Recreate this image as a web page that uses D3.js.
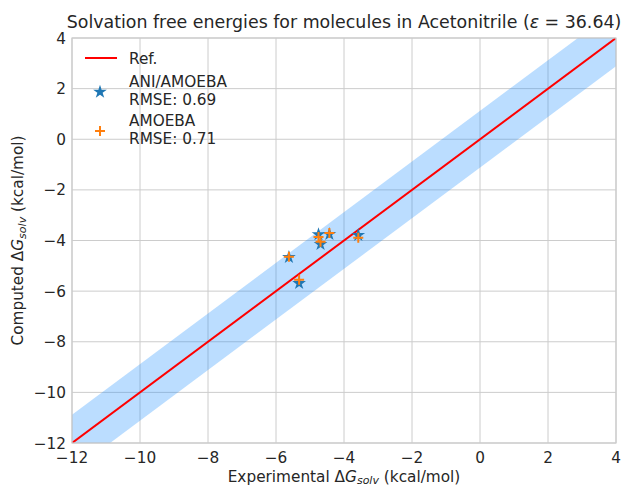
<!DOCTYPE html>
<html><head><meta charset="utf-8">
<script src="https://cdn.jsdelivr.net/npm/d3@7"></script>
<style>body{margin:0;background:#fff}svg{display:block}text{font-family:"DejaVu Sans",sans-serif;fill:#262626}</style>
</head><body><svg id="c" width="635" height="487"></svg>
<script>
const xExp = [-5.62, -4.75, -4.69, -4.43, -3.58, -5.32];
const aniAmoeba = [-4.66, -3.76, -4.15, -3.75, -3.79, -5.69];
const amoeba = [-4.64, -3.86, -4.05, -3.70, -3.89, -5.55];
const refLine = [-12, 4];
const bandHalf = 1.12;
const tickVals = [-12, -10, -8, -6, -4, -2, 0, 2, 4];
const legendLabels = [["Ref."], ["ANI/AMOEBA", "RMSE: 0.69"], ["AMOEBA", "RMSE: 0.71"]];

const svg = d3.select("#c");
const L = 72, R = 616, T = 38, B = 443;
const x = d3.scaleLinear().domain([-12, 4]).range([L, R]);
const y = d3.scaleLinear().domain([-12, 4]).range([B, T]);

svg.append("defs").append("clipPath").attr("id", "clip")
  .append("rect").attr("x", L).attr("y", T).attr("width", R - L).attr("height", B - T);

const g = svg.append("g");
g.selectAll(".gx").data(tickVals).join("line")
  .attr("x1", d => x(d)).attr("x2", d => x(d)).attr("y1", T).attr("y2", B)
  .attr("stroke", "#cccccc").attr("stroke-width", 1);
g.selectAll(".gy").data(tickVals).join("line")
  .attr("y1", d => y(d)).attr("y2", d => y(d)).attr("x1", L).attr("x2", R)
  .attr("stroke", "#cccccc").attr("stroke-width", 1);

const plot = svg.append("g").attr("clip-path", "url(#clip)");
const bandPts = [[-14, -14 + bandHalf], [6, 6 + bandHalf], [6, 6 - bandHalf], [-14, -14 - bandHalf]];
plot.append("path")
  .attr("d", d3.line().x(d => x(d[0])).y(d => y(d[1]))(bandPts) + "Z")
  .attr("fill", "#1e90ff").attr("fill-opacity", 0.3);
plot.append("line").attr("x1", x(refLine[0])).attr("y1", y(refLine[0]))
  .attr("x2", x(refLine[1])).attr("y2", y(refLine[1]))
  .attr("stroke", "#ff0000").attr("stroke-width", 2);

svg.append("rect").attr("x", L).attr("y", T).attr("width", R - L).attr("height", B - T)
  .attr("fill", "none").attr("stroke", "#cccccc").attr("stroke-width", 1.2);

const star = d3.symbol().type(d3.symbolStar).size(58);
const plusPath = "M-5,0H5M0,-5V5";

plot.selectAll(".s").data(xExp).join("path")
  .attr("transform", (d, i) => `translate(${x(d)},${y(aniAmoeba[i])})`)
  .attr("d", star()).attr("fill", "#1f77b4");
plot.selectAll(".p").data(xExp).join("path")
  .attr("transform", (d, i) => `translate(${x(d)},${y(amoeba[i])})`)
  .attr("d", plusPath).attr("stroke", "#ff7f0e").attr("stroke-width", 2).attr("fill", "none");

const fmt = d => d < 0 ? "\u2212" + Math.abs(d) : String(d);
svg.selectAll(".xt").data(tickVals).join("text")
  .attr("x", d => x(d)).attr("y", 463).attr("text-anchor", "middle")
  .attr("font-size", 15.3).text(fmt);
svg.selectAll(".yt").data(tickVals).join("text")
  .attr("x", 66).attr("y", d => y(d) + 5.5).attr("text-anchor", "end")
  .attr("font-size", 15.3).text(fmt);

const xl = svg.append("text").attr("x", (L + R) / 2).attr("y", 482).attr("text-anchor", "middle").attr("font-size", 15.3);
xl.append("tspan").text("Experimental \u0394");
xl.append("tspan").attr("font-style", "italic").text("G");
xl.append("tspan").attr("font-style", "italic").attr("font-size", 11).attr("dy", 2).text("solv");
xl.append("tspan").attr("dy", -2).text(" (kcal/mol)");

const yl = svg.append("text").attr("transform", `translate(23,${(T + B) / 2}) rotate(-90)`)
  .attr("text-anchor", "middle").attr("font-size", 15.3);
yl.append("tspan").text("Computed \u0394");
yl.append("tspan").attr("font-style", "italic").text("G");
yl.append("tspan").attr("font-style", "italic").attr("font-size", 11).attr("dy", 2.5).text("solv");
yl.append("tspan").attr("dy", -2.5).text(" (kcal/mol)");

const tt = svg.append("text").attr("x", (L + R) / 2).attr("y", 28).attr("text-anchor", "middle").attr("font-size", 17.4);
tt.append("tspan").text("Solvation free energies for molecules in Acetonitrile (");
tt.append("tspan").attr("font-style", "italic").text("\u03b5");
tt.append("tspan").text(" = 36.64)");

const lg = svg.append("g");
lg.append("line").attr("x1", 85).attr("x2", 117).attr("y1", 58).attr("y2", 58)
  .attr("stroke", "#ff0000").attr("stroke-width", 2);
lg.append("path").attr("transform", "translate(100,92)").attr("d", star()).attr("fill", "#1f77b4");
lg.append("path").attr("transform", "translate(100,131)").attr("d", plusPath)
  .attr("stroke", "#ff7f0e").attr("stroke-width", 2);
const ly = [[64], [87, 105], [126, 144]];
legendLabels.forEach((lines, i) => {
  lines.forEach((t, j) => {
    lg.append("text").attr("x", 129).attr("y", ly[i][j]).attr("font-size", 15.3).text(t);
  });
});
</script></body></html>
